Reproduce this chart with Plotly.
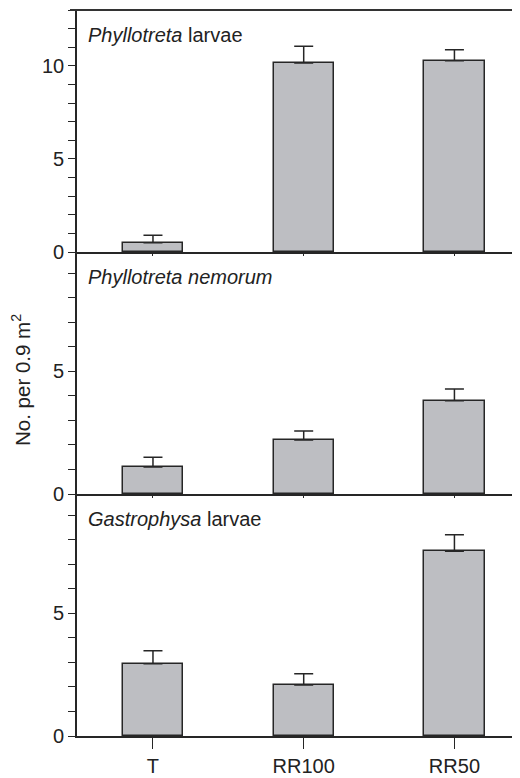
import plotly.graph_objects as go
from plotly.subplots import make_subplots

categories = ["T", "RR100", "RR50"]
panel_titles = ["<i>Phyllotreta</i> larvae", "<i>Phyllotreta nemorum</i>", "<i>Gastrophysa</i> larvae"]
larvae_vals = [0.5, 10.15, 10.27]
larvae_err = [0.4, 0.9, 0.6]
nemorum_vals = [1.1, 2.2, 3.8]
nemorum_err = [0.4, 0.37, 0.48]
gastro_vals = [2.95, 2.08, 7.54]
gastro_err = [0.53, 0.46, 0.67]
y_ranges = [[0, 13], [0, 9.87], [0, 9.87]]
y_ticks = [0, 5, 10]
y_title = "No. per 0.9 m<sup>2</sup>"

series = [(larvae_vals, larvae_err), (nemorum_vals, nemorum_err), (gastro_vals, gastro_err)]

FONT = "Liberation Sans, Arial, sans-serif"
DARK = "#262626"
BAR = "#bdbec2"

# page body has an 8px margin; figure coordinates are window coordinates minus 8
W, H = 512, 770
L, T, B = 69, 2, 42
plot_w = W - L
plot_h = H - T - B   # 726

fig = make_subplots(rows=3, cols=1, shared_xaxes=True, vertical_spacing=0)

for i, (vals, err) in enumerate(series):
    fig.add_trace(go.Bar(
        x=categories, y=vals, width=0.4,
        marker=dict(color=BAR, line=dict(color=DARK, width=1.5)),
        error_y=dict(type="data", array=err, arrayminus=[0] * len(err), symmetric=False,
                     color=DARK, thickness=1.5, width=9.5),
        showlegend=False,
    ), row=i + 1, col=1)

for i in range(3):
    r = i + 1
    fig.update_yaxes(
        range=y_ranges[i], tickvals=y_ticks, ticks="outside", ticklen=7, tickwidth=1.3,
        tickcolor=DARK, showline=True, linecolor=DARK, linewidth=1.6, showgrid=False,
        zeroline=False, tickfont=dict(family=FONT, size=20, color="#222"),
        minor=dict(dtick=1, tick0=0, ticks="outside", ticklen=7, tickwidth=1.3, tickcolor=DARK),
        row=r, col=1)
    last = (r == 3)
    fig.update_xaxes(
        type="category", range=[-0.504, 2.435], showline=True, linecolor=DARK, linewidth=1.8,
        showgrid=False, zeroline=False, ticks="outside",
        ticklen=11 if last else 2, tickwidth=1.3, tickcolor=DARK,
        showticklabels=last, tickfont=dict(family=FONT, size=20, color="#222"),
        row=r, col=1)

doms = [[484 / plot_h, 1], [242 / plot_h, 484 / plot_h], [0, 242 / plot_h]]
for n, d in zip(["yaxis", "yaxis2", "yaxis3"], doms):
    fig.layout[n].domain = d

for i, t in enumerate(panel_titles):
    yref = "y domain" if i == 0 else f"y{i + 1} domain"
    xref = "x domain" if i == 0 else f"x{i + 1} domain"
    fig.add_annotation(text=t, xref=xref, yref=yref, x=0.02, y=1, yshift=-12,
                       xanchor="left", yanchor="top", showarrow=False,
                       font=dict(family=FONT, size=20, color="#222"))

fig.add_annotation(text=y_title, xref="paper", yref="paper", x=-56 / plot_w, y=(736 - 380) / plot_h,
                   xanchor="center", yanchor="middle", textangle=-90, showarrow=False,
                   font=dict(family=FONT, size=20.5, color="#222"))

fig.add_shape(type="line", xref="paper", yref="paper", x0=-7 / plot_w, x1=1, y0=1, y1=1,
              line=dict(color="#333", width=2))

fig.update_layout(
    width=W, height=H, margin=dict(l=L, r=0, t=T, b=B),
    plot_bgcolor="white", paper_bgcolor="white", bargap=0,
    font=dict(family=FONT, color="#222"),
)

fig.write_html("out.html")
